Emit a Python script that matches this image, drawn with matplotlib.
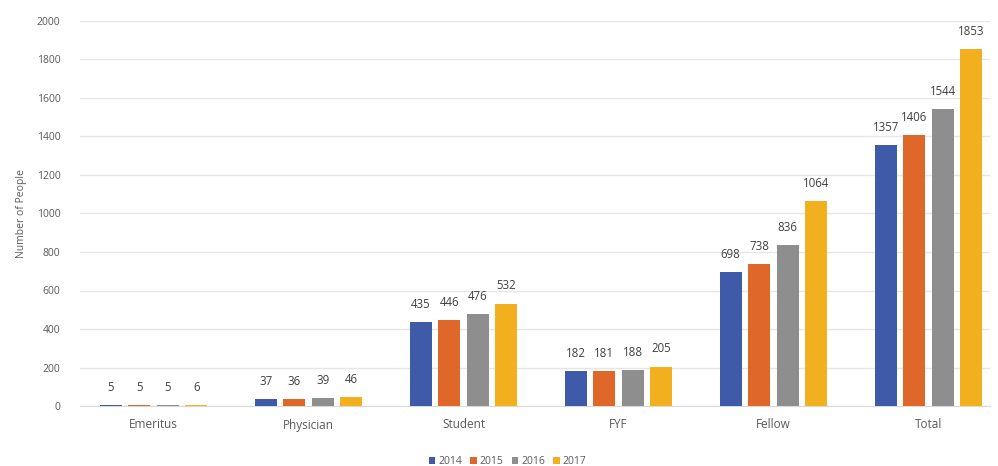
import matplotlib.pyplot as plt
import numpy as np

categories = ["Emeritus", "Physician", "Student", "FYF", "Fellow", "Total"]
years = ["2014", "2015", "2016", "2017"]
counts_2014 = [5, 37, 435, 182, 698, 1357]
counts_2015 = [5, 36, 446, 181, 738, 1406]
counts_2016 = [5, 39, 476, 188, 836, 1544]
counts_2017 = [6, 46, 532, 205, 1064, 1853]

colors = ["#3f5aa8", "#e0672a", "#8e8e8e", "#f2b01e"]

plt.rcParams['font.family'] = ['Open Sans', 'DejaVu Sans']

fig = plt.figure(figsize=(9.98, 4.66), dpi=100)
ax = fig.add_axes([80 / 998, 60 / 466, 910 / 998, 385 / 466])

x = np.arange(len(categories))
width = 0.142
step = 0.184
series = [counts_2014, counts_2015, counts_2016, counts_2017]

for i, (year, vals) in enumerate(zip(years, series)):
    pos = x + (i - 1.5) * step
    bars = ax.bar(pos, vals, width, color=colors[i], label=year, zorder=3)
    for b, v in zip(bars, vals):
        ax.annotate(str(v), (b.get_x() + b.get_width() / 2, v),
                    xytext=(0, 8), textcoords="offset points",
                    ha="center", va="bottom", fontsize=8.3, color="#404040")

ax.set_xlim(-0.474, 5.397)
ax.set_ylim(0, 2000)
ax.set_yticks(range(0, 2001, 200))
ax.set_xticks(x)
ax.set_xticklabels(categories, fontsize=8.5)
ax.tick_params(axis="both", length=0, labelsize=7.5, labelcolor="#595959")
ax.tick_params(axis="x", pad=9, labelsize=8.5)
ax.tick_params(axis="y", pad=14)
ax.grid(axis="y", color="#e6e6e6", linewidth=1, zorder=0)
for s in ["top", "right", "left"]:
    ax.spines[s].set_visible(False)
ax.spines["bottom"].set_color("#d9d9d9")

ax.set_ylabel("Number of People", fontsize=7.5, color="#595959", labelpad=7)

ax.legend(loc="lower center", bbox_to_anchor=(0.47, -0.175), ncol=4, frameon=False,
          fontsize=7.5, labelcolor="#595959", handlelength=0.6, handleheight=0.6,
          handletextpad=0.3, columnspacing=0.8, borderpad=0.1)

fig.savefig("out.png", dpi=100)
